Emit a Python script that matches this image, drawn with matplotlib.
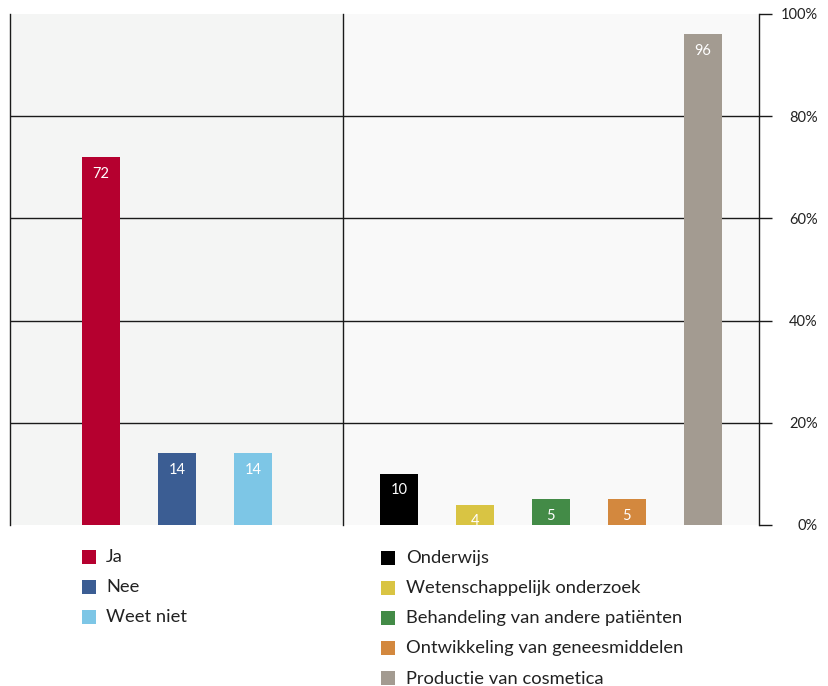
import matplotlib
matplotlib.use("Agg")
import matplotlib.pyplot as plt
from matplotlib.patches import Rectangle

# Data
group1_labels = ["Ja", "Nee", "Weet niet"]
group1_values = [72, 14, 14]
group1_colors = ["#b5002f", "#3b5d93", "#7dc6e6"]

group2_labels = ["Onderwijs", "Wetenschappelijk onderzoek",
                 "Behandeling van andere patiënten",
                 "Ontwikkeling van geneesmiddelen", "Productie van cosmetica"]
group2_values = [10, 4, 5, 5, 96]
group2_colors = ["#000000", "#d9c443", "#438b47", "#d3883e", "#a39b91"]

y_ticks = [0, 20, 40, 60, 80, 100]
y_tick_labels = ["0%", "20%", "40%", "60%", "80%", "100%"]

plt.rcParams["font.family"] = ["Lato", "DejaVu Sans"]

W, H = 829, 686
fig = plt.figure(figsize=(W / 100, H / 100), dpi=100)
fig.patch.set_facecolor("white")

left_px, right_px, top_px, bottom_px = 10, 759, 14, 525
ax = fig.add_axes([left_px / W, 1 - bottom_px / H,
                   (right_px - left_px) / W, (bottom_px - top_px) / H])

unit = 76.0  # pixels per category slot
x_min = (left_px - 101) / unit
x_max = (right_px - 101) / unit
x_div = (343 - 101) / unit
offset2 = 3.92

ax.set_xlim(x_min, x_max)
ax.set_ylim(0, 100)

# panel backgrounds
ax.axvspan(x_min, x_div, color="#f4f5f4", zorder=0, lw=0)
ax.axvspan(x_div, x_max, color="#f9f9f9", zorder=0, lw=0)

# horizontal gridlines
for t in y_ticks[1:-1]:
    ax.axhline(t, color="#1a1a1a", lw=1.0, zorder=1)

# vertical separators
for xv in (x_min, x_div, x_max):
    ax.axvline(xv, color="#1a1a1a", lw=1.0, zorder=1, clip_on=False)

bar_w = 38 / unit
x1 = list(range(len(group1_values)))
x2 = [offset2 + i for i in range(len(group2_values))]

ax.bar(x1, group1_values, width=bar_w, color=group1_colors, zorder=2)
ax.bar(x2, group2_values, width=bar_w, color=group2_colors, zorder=2)

px_per_pct = (bottom_px - top_px) / 100.0
for xs, vals in ((x1, group1_values), (x2, group2_values)):
    for x, v in zip(xs, vals):
        ax.text(x, v - 16.5 / px_per_pct, str(v), ha="center", va="center",
                color="white", fontsize=10.5, zorder=3)

for s in ax.spines.values():
    s.set_visible(False)

ax.set_xticks([])
ax.yaxis.tick_right()
ax.set_yticks(y_ticks)
ax.set_yticklabels(y_tick_labels)
ax.tick_params(axis="y", direction="out", length=9.4, width=1.0,
               color="#1a1a1a", pad=33, labelsize=10.5, labelcolor="#222222")
for lbl in ax.get_yticklabels():
    lbl.set_horizontalalignment("right")
ax.yaxis.get_major_ticks()[0].tick2line.set_color("#888888")

# legends
def legend_column(x_sq, x_txt, y0, labels, colors):
    for i, (lab, col) in enumerate(zip(labels, colors)):
        y = y0 + 30 * i
        fig.add_artist(Rectangle((x_sq / W, 1 - (y + 14) / H), 14 / W, 14 / H,
                                 transform=fig.transFigure, color=col, lw=0))
        fig.text(x_txt / W, 1 - (y + 7.5) / H, lab, ha="left", va="center",
                 fontsize=13.2, color="#222222")

legend_column(82, 106, 550, group1_labels, group1_colors)
legend_column(381, 406, 551, group2_labels, group2_colors)

fig.savefig("out.png", dpi=100)
